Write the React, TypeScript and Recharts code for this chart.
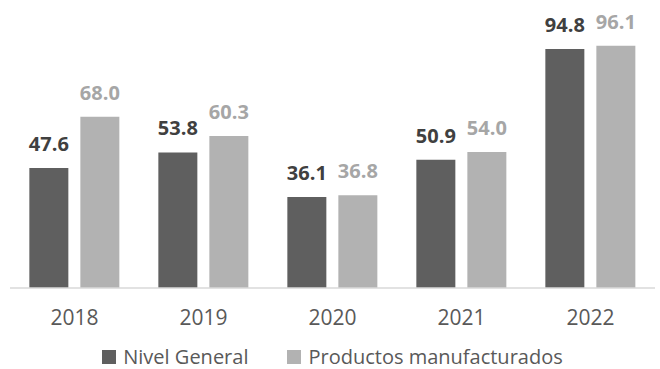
import React from "react";
import { BarChart, Bar, XAxis, YAxis, Legend, LabelList } from "recharts";

const years = ["2018", "2019", "2020", "2021", "2022"];
const nivelGeneral = [47.6, 53.8, 36.1, 50.9, 94.8];
const productosManufacturados = [68.0, 60.3, 36.8, 54.0, 96.1];

const data = years.map((y, i) => ({
  year: y,
  nivel: nivelGeneral[i],
  prod: productosManufacturados[i],
}));

const FONT = "'Open Sans', sans-serif";
const DARK = "#5f5f5f";
const LIGHT = "#b2b2b2";

const renderLegend = () => (
  <div style={{ display: "flex", justifyContent: "center", alignItems: "center", fontFamily: FONT, fontSize: 20, color: "#595959", lineHeight: "24px", height: 24 }}>
    <span style={{ display: "inline-block", width: 14, height: 14, background: DARK, marginRight: 7 }} />
    <span style={{ marginRight: 39 }}>Nivel General</span>
    <span style={{ display: "inline-block", width: 14, height: 14, background: LIGHT, marginRight: 7 }} />
    <span>Productos manufacturados</span>
  </div>
);

export default function App() {
  return (
    <div style={{ position: "absolute", left: 0, top: 0, background: "#fff" }}>
      <BarChart
        width={660}
        height={369}
        data={data}
        margin={{ top: 36, right: 5, left: 10, bottom: 0 }}
        barCategoryGap="15%"
        barGap={12}
      >
        <YAxis hide domain={[0, 100]} />
        <XAxis
          dataKey="year"
          axisLine={{ stroke: "#d9d9d9", strokeWidth: 1.5 }}
          tickLine={false}
          tickSize={0}
          tickMargin={22}
          height={57}
          tick={{ fill: "#595959", fontSize: 21, fontFamily: FONT }}
        />
        <Legend verticalAlign="bottom" height={24} content={renderLegend} />
        <Bar dataKey="nivel" name="Nivel General" fill={DARK} isAnimationActive={false}>
          <LabelList
            dataKey="nivel"
            position="top"
            offset={17}
            formatter={(v: number) => v.toFixed(1)}
            style={{ fill: "#404040", fontSize: 20, fontWeight: 700, fontFamily: FONT }}
          />
        </Bar>
        <Bar dataKey="prod" name="Productos manufacturados" fill={LIGHT} isAnimationActive={false}>
          <LabelList
            dataKey="prod"
            position="top"
            offset={17}
            formatter={(v: number) => v.toFixed(1)}
            style={{ fill: "#a6a6a6", fontSize: 20, fontWeight: 700, fontFamily: FONT }}
          />
        </Bar>
      </BarChart>
    </div>
  );
}
